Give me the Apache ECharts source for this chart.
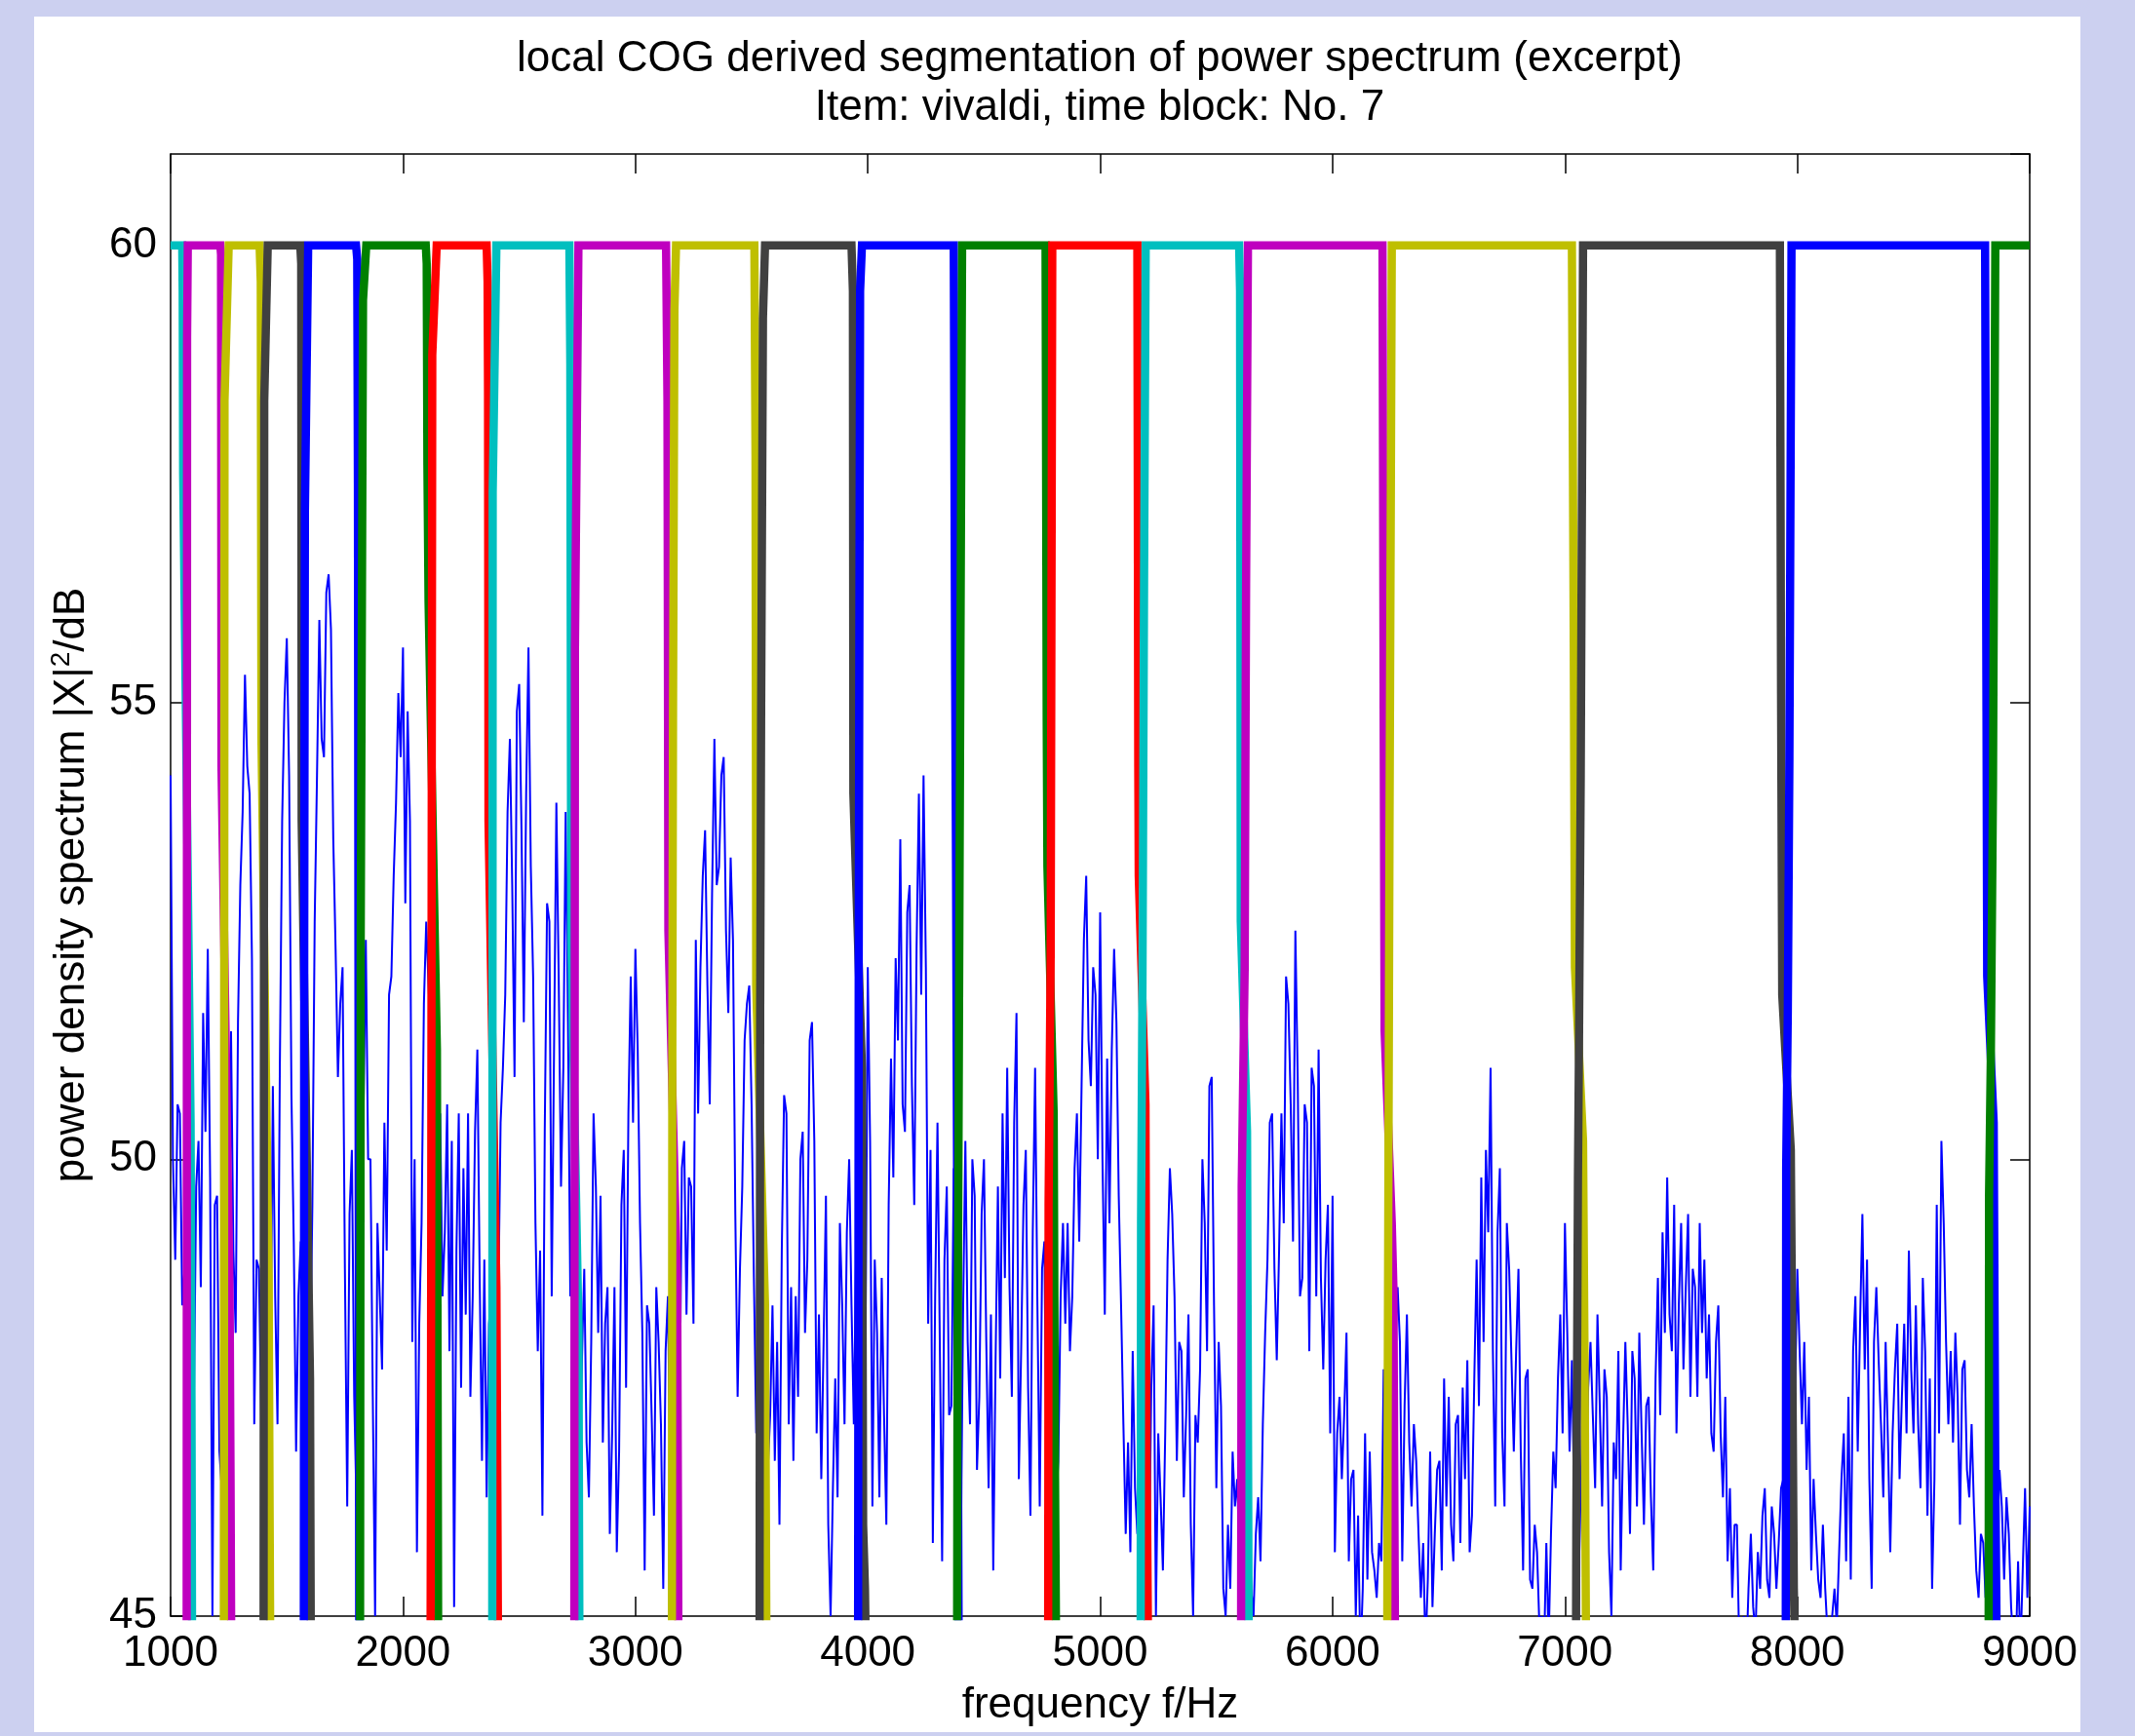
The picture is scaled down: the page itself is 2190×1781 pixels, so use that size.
<!DOCTYPE html>
<html lang="en">
<head>
    <meta charset="UTF-8">
    <script src="https://cdn.jsdelivr.net/npm/echarts@6/dist/echarts.min.js"></script>
    <style>
        html, body { margin: 0; padding: 0; background: #ccd0f0; }
        #main { width: 2190px; height: 1781px; }
    </style>
</head>
<body>
    <div id="main"></div>
</body>
<script>
    // tick labels
    var freqTicks = [1000, 2000, 3000, 4000, 5000, 6000, 7000, 8000, 9000];
    var dbTicks = [45, 50, 55, 60];

    // power spectrum, one value every 10 Hz from 1000 Hz
    var specStartHz = 1000;
    var specStepHz = 10;
    var specDb = [
        54.2,50.0, 48.9,50.6, 50.5,48.4, 48.8,50.2, 50.5,48.2, 47.3,49.7, 50.2,48.6, 51.6,50.3, 52.3,49.8, 45.0,49.5,
        49.6,46.8, 46.4,48.8, 48.5,47.5, 51.4,49.0, 48.1,51.5, 53.0,53.8, 55.3,54.3, 54.0,52.2, 47.1,48.9, 48.8,47.2,
        47.5,48.9, 48.5,47.7, 50.8,48.5, 47.1,51.0, 53.7,55.0, 55.7,54.2, 50.7,49.1, 46.8,48.5, 49.1,47.0, 48.0,51.0,
        47.6,49.5, 52.6,54.2, 55.9,54.6, 54.4,56.2, 56.4,55.8, 53.5,52.3, 50.9,51.7, 52.1,48.8, 46.2,49.4, 50.1,47.4,
        46.2,48.0, 49.2,50.5, 52.4,50.0, 50.0,47.4, 45.0,49.3, 48.5,47.7, 50.4,49.0, 51.8,52.0, 53.1,53.9, 55.1,54.4,
        55.6,52.8, 54.9,53.7, 48.0,50.0, 45.7,48.2, 49.3,51.7, 52.6,51.9, 51.3,48.6, 46.4,49.3, 50.5,48.5, 49.2,50.6,
        47.9,50.2, 45.1,49.0, 50.5,47.5, 49.9,48.3, 50.5,47.4, 48.5,50.3, 51.2,48.7, 46.7,48.9, 46.3,48.2, 48.5,47.6,
        49.2,48.4, 50.4,51.0, 51.8,53.8, 54.6,53.0, 50.9,54.9, 55.2,53.6, 51.5,54.0, 55.6,53.2, 52.0,49.3, 47.9,49.0,
        46.1,50.3, 52.8,52.6, 48.5,51.2, 53.9,52.0, 49.7,51.0, 53.8,51.5, 48.5,50.2, 47.7,48.6, 46.5,47.8, 48.8,46.9,
        46.3,48.0, 50.5,49.7, 48.1,49.6, 46.9,48.2, 48.6,45.9, 47.0,48.6, 45.7,46.8, 49.5,50.1, 47.5,50.5, 52.0,50.4,
        52.3,51.2, 49.3,48.1, 45.5,48.4, 48.2,47.2, 46.1,48.6, 48.0,47.1, 45.3,47.9, 48.5,46.5, 47.0,46.2, 48.6,47.0,
        49.9,50.2, 48.3,49.8, 49.7,48.2, 52.4,50.5, 52.1,53.1, 53.6,51.9, 50.6,52.9, 54.6,53.0, 53.2,54.2, 54.4,52.5,
        51.6,53.3, 52.4,49.4, 47.4,48.8, 49.7,51.3, 51.7,51.9, 50.6,48.7, 47.0,48.8, 47.7,48.6, 48.1,46.6, 47.2,48.4,
        46.7,48.0, 46.0,49.0, 50.7,50.5, 47.1,48.6, 46.7,48.5, 47.4,50.0, 50.3,48.1, 48.9,51.3, 51.5,50.2, 47.0,48.3,
        46.5,48.0, 49.6,46.0, 45.0,46.4, 47.6,46.3, 49.3,48.4, 47.1,49.2, 50.0,48.4, 47.1,49.0, 45.5,48.0, 51.0,47.8,
        52.1,50.2, 46.2,48.9, 48.1,46.3, 48.7,47.2, 46.0,49.5, 51.1,49.8, 52.2,51.3, 53.5,50.6, 50.3,52.7, 53.0,50.8,
        49.5,52.3, 54.0,51.8, 54.2,52.1, 48.2,50.1, 45.8,48.5, 50.4,48.0, 45.6,48.9, 49.7,47.2, 47.3,49.9, 48.5,47.0,
        45.6,48.3, 50.2,48.0, 47.1,50.0, 49.6,46.6, 47.4,49.4, 50.0,48.0, 46.4,48.3, 45.5,47.8, 49.7,47.6, 50.5,48.7,
        51.0,48.6, 47.4,50.4, 51.6,46.5, 47.9,49.5, 50.1,47.5, 46.1,49.2, 51.0,48.4, 46.2,48.8, 49.1,46.4, 46.6,47.8,
        48.5,46.2, 46.7,48.5, 49.3,48.2, 49.3,47.9, 48.5,49.9, 50.5,49.1, 50.8,52.4, 53.1,51.3, 50.8,52.1, 51.8,50.0,
        52.7,50.0, 48.3,51.1, 49.3,51.2, 52.3,51.5, 49.6,48.4, 47.1,45.9, 46.9,45.7, 47.9,46.4, 45.9,47.5, 46.2,45.6,
        46.8,45.5, 47.5,48.4, 45.0,47.0, 46.3,45.5, 47.0,48.9, 49.9,49.4, 48.5,46.7, 48.0,47.9, 46.3,47.2, 48.3,46.0,
        45.0,47.2, 46.9,47.7, 50.0,49.3, 47.9,50.8, 50.9,48.4, 46.4,48.0, 47.3,45.3, 45.0,46.0, 45.3,46.8, 46.2,46.5,
        45.5,46.0, 45.9,45.1, 46.2,45.3, 45.0,45.9, 46.3,45.6, 47.1,48.1, 48.9,50.4, 50.5,48.8, 47.8,49.0, 50.5,49.3,
        52.0,51.7, 50.6,49.1, 52.5,50.9, 48.5,48.7, 50.6,50.4, 47.9,51.0, 50.8,48.5, 51.2,48.7, 47.7,48.9, 49.5,47.0,
        49.6,45.7, 47.0,47.4, 46.5,47.2, 48.1,45.6, 46.5,46.6, 45.0,46.1, 44.5,45.3, 47.0,45.4, 46.8,45.7, 45.5,45.2,
        45.8,45.6, 47.7,46.0, 46.2,45.5, 47.0,47.9, 48.6,48.0, 45.6,47.3, 48.3,46.9, 46.2,47.1, 46.7,45.9, 45.2,45.8,
        44.6,45.4, 46.8,45.1, 45.9,46.6, 46.7,45.5, 47.6,46.2, 47.4,46.0, 45.6,47.1, 47.2,45.8, 47.5,46.5, 47.8,45.7,
        46.1,47.6, 48.9,47.3, 49.8,48.0, 50.1,49.2, 51.0,47.9, 46.2,49.2, 49.9,47.0, 46.2,49.3, 48.8,47.8, 46.8,47.9,
        48.8,46.8, 45.5,47.6, 47.7,45.4, 45.3,46.0, 45.7,44.9, 45.0,44.6, 45.8,44.7, 45.9,46.8, 46.4,47.6, 48.3,47.0,
        49.3,48.1, 46.8,47.8, 46.2,45.3, 45.5,46.6, 47.7,46.2, 47.5,48.0, 47.2,46.4, 48.3,47.3, 46.2,47.7, 47.4,45.7,
        45.0,46.9, 46.5,47.9, 45.5,46.9, 48.0,47.1, 45.9,47.9, 47.6,46.2, 48.1,47.0, 46.0,47.3, 47.4,46.3, 45.5,47.6,
        48.7,47.2, 49.2,48.1, 49.8,48.3, 47.9,49.5, 47.0,48.4, 49.3,47.7, 48.6,49.4, 47.4,48.8, 48.6,47.4, 49.3,48.1,
        48.9,47.6, 48.3,47.0, 46.8,48.0, 48.4,47.0, 46.3,47.4, 45.6,46.4, 45.2,46.0, 46.0,44.7, 44.6,45.0, 44.5,45.3,
        45.9,45.1, 44.8,45.7, 45.3,46.1, 46.4,45.4, 45.2,46.2, 45.9,45.3, 45.8,46.4, 46.5,45.8, 47.0,46.2, 48.1,47.4,
        48.8,47.9, 47.1,48.0, 46.6,47.4, 45.5,46.5, 45.9,45.4, 45.2,46.0, 45.3,44.8, 44.6,45.0, 45.3,44.9, 45.7,46.5,
        47.0,45.6, 47.4,45.4, 47.9,48.5, 46.8,48.2, 49.4,47.7, 48.9,46.5, 45.3,48.0, 48.6,47.8, 47.1,46.3, 48.0,46.9,
        45.7,47.0, 47.7,48.2, 46.5,47.4, 48.2,47.0, 49.0,47.7, 47.0,48.4, 47.1,46.4, 48.7,47.9, 46.1,47.6, 45.3,46.5,
        49.5,47.0, 50.2,49.3, 48.0,47.1, 47.9,46.9, 48.1,47.4, 46.0,47.7, 47.8,46.6, 46.3,47.1, 46.2,45.5, 45.2,45.9,
        45.8,45.2, 46.2,45.5, 47.0,46.1, 45.9,46.6, 46.2,45.4, 46.3,45.9, 45.1,44.7, 44.6,45.6, 44.6,45.5, 46.4,45.2,
        46.2
    ];

    // segment curves [Hz, dB], in plotting order
    var segments = [
        [[1000, 60], [1050, 60], [1052, 59.5], [1054, 57.5], [1086, 50.4], [1090, 47.3], [1093, 44]],
        [[1069, 44], [1071, 59], [1074, 60], [1214, 60], [1217, 59.9], [1219, 54.3], [1254, 48.5], [1258, 46.5], [1262, 44]],
        [[1229, 44], [1232, 58.3], [1250, 60], [1383, 60], [1388, 59.6], [1391, 54.6], [1422, 48.7], [1426, 46.2], [1430, 44]],
        [[1400, 44], [1403, 58.3], [1418, 60], [1558, 60], [1562, 59.8], [1564, 53.7], [1600, 47.6], [1604, 44]],
        [[1573, 44], [1575, 52.4], [1578, 57.1], [1592, 60], [1798, 60], [1803, 59.85], [1806, 57.4], [1812, 44]],
        [[1815, 44], [1818, 52.4], [1828, 59.4], [1842, 60], [2098, 60], [2102, 59.8], [2105, 57.6], [2110, 56.1], [2146, 51.2], [2152, 44]],
        [[2118, 44], [2120, 46.4], [2126, 58.8], [2145, 60], [2360, 60], [2364, 59.6], [2366, 58.4], [2368, 53.7], [2402, 48.6], [2406, 46.4], [2410, 44]],
        [[2384, 44], [2386, 57.3], [2402, 60], [2716, 60], [2720, 58.7], [2724, 52.4], [2755, 48.2], [2760, 44]],
        [[2737, 44], [2740, 55.6], [2755, 60], [3132, 60], [3138, 58.3], [3142, 52.5], [3180, 48.6], [3186, 44]],
        [[3157, 44], [3159, 51.3], [3162, 54.9], [3168, 59.3], [3175, 60], [3512, 60], [3517, 57.7], [3520, 51.9], [3558, 48.4], [3565, 44]],
        [[3534, 44], [3537, 51.6], [3541, 54.8], [3549, 59.2], [3558, 60], [3930, 60], [3936, 59.5], [3938, 54.0], [3975, 51.0], [3980, 46], [3988, 45.3], [3995, 44]],
        [[3958, 44], [3961, 52.2], [3967, 59.5], [3975, 60], [4370, 60], [4376, 55.3], [4380, 53.1], [4392, 44]],
        [[4384, 44], [4386, 47.3], [4399, 55.7], [4406, 60], [4765, 60], [4770, 54.8], [4773, 53.2], [4800, 50.5], [4806, 46.5], [4812, 44]],
        [[4776, 44], [4778, 49.5], [4787, 52.2], [4794, 60], [5160, 60], [5164, 54.3], [5166, 53.1], [5195, 50.6], [5200, 46.8], [5208, 44]],
        [[5174, 44], [5176, 49.3], [5182, 51.9], [5189, 56.4], [5196, 60], [5598, 60], [5602, 59.5], [5605, 52.6], [5632, 50.3], [5640, 44]],
        [[5606, 44], [5609, 49.7], [5622, 52.1], [5628, 56.3], [5636, 60], [6215, 60], [6220, 54.8], [6224, 51.4], [6255, 49.3], [6262, 48.6], [6270, 44]],
        [[6235, 44], [6237, 47.1], [6245, 53.5], [6255, 60], [7030, 60], [7038, 55.6], [7043, 52.1], [7078, 50.2], [7085, 47.6], [7092, 44]],
        [[7047, 44], [7049, 46.0], [7056, 49.8], [7060, 51.1], [7068, 54.2], [7078, 60], [7925, 60], [7930, 55.1], [7935, 51.8], [7972, 50.1], [7978, 48.0], [7985, 45.3], [7995, 44]],
        [[7950, 44], [7952, 49.9], [7959, 51.6], [7966, 54.4], [7975, 60], [8808, 60], [8814, 54.9], [8817, 52.0], [8845, 50.4], [8852, 46.6], [8860, 44]],
        [[8823, 44], [8825, 49.6], [8833, 51.2], [8842, 54.1], [8852, 60], [9000, 60]]
    ];
    var segColors = ['#00bfbf', '#bf00bf', '#bfbf00', '#404040', '#0000ff', '#008000', '#ff0000'];

    var font = 'Liberation Sans, Arial, Helvetica, sans-serif';

    var specData = [];
    for (var i = 0; i < specDb.length; i++) {
        specData.push([specStartHz + i * specStepHz, specDb[i]]);
    }

    var series = [{
        type: 'line',
        data: specData,
        showSymbol: false,
        lineStyle: { color: '#0000ff', width: 2 },
        z: 2
    }];
    for (var s = 0; s < segments.length; s++) {
        series.push({
            type: 'line',
            data: segments[s],
            showSymbol: false,
            lineStyle: { color: segColors[s % segColors.length], width: 8.5, join: 'miter' },
            z: 3 + s
        });
    }

    var tickStyle = { inside: true, length: 20, lineStyle: { color: '#000', width: 1.5 } };
    var lineStyle = { show: true, onZero: false, lineStyle: { color: '#000', width: 1.5 } };
    var labelStyle = { color: '#000', fontSize: 44, fontFamily: font };

    var xBase = {
        type: 'value', min: freqTicks[0], max: freqTicks[freqTicks.length - 1], interval: 1000,
        axisLine: lineStyle, axisTick: tickStyle, splitLine: { show: false }
    };
    var yBase = {
        type: 'value', min: dbTicks[0], max: 61, interval: 5,
        axisLine: lineStyle, axisTick: tickStyle, splitLine: { show: false }
    };

    var myChart = echarts.init(document.getElementById('main'));
    var option = {
        backgroundColor: '#ccd0f0',
        animation: false,
        graphic: [{
            type: 'rect', left: 35, top: 17, z: -100, silent: true,
            shape: { width: 2099, height: 1760 },
            style: { fill: '#ffffff' }
        }],
        title: {
            text: 'local COG derived segmentation of power spectrum (excerpt)\nItem: vivaldi, time block: No. 7',
            left: 1128, top: 36, textAlign: 'center', padding: 0,
            textStyle: { color: '#000', fontSize: 44, fontWeight: 'normal', fontFamily: font, lineHeight: 50 }
        },
        grid: { left: 175, right: 108, top: 158, bottom: 123 },
        xAxis: [
            Object.assign({}, xBase, {
                position: 'bottom',
                name: 'frequency f/Hz', nameLocation: 'middle', nameGap: 70,
                nameTextStyle: { color: '#000', fontSize: 44, fontFamily: font },
                axisLabel: Object.assign({ margin: 17, formatter: function (v) { return String(v); } }, labelStyle)
            }),
            Object.assign({}, xBase, { position: 'top', axisLabel: { show: false } })
        ],
        yAxis: [
            Object.assign({}, yBase, {
                position: 'left',
                name: '{a|power density spectrum |X|}{s|2}{a|/dB}', nameLocation: 'middle', nameGap: 76,
                nameTextStyle: {
                    color: '#000', fontFamily: font,
                    rich: {
                        a: { fontSize: 44, fontFamily: font, color: '#000', lineHeight: 50 },
                        s: { fontSize: 28, fontFamily: font, color: '#000', verticalAlign: 'top', lineHeight: 50 }
                    }
                },
                axisLabel: Object.assign({ margin: 14, showMaxLabel: false }, labelStyle)
            }),
            Object.assign({}, yBase, { position: 'right', axisLabel: { show: false } })
        ],
        series: series
    };
    myChart.setOption(option);
</script>
</html>
